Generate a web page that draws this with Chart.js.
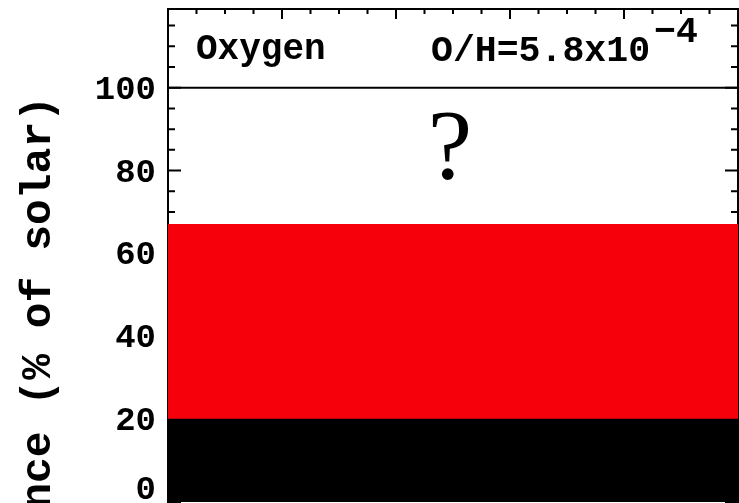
<!DOCTYPE html>
<html>
<head>
<meta charset="utf-8">
<script src="https://cdn.jsdelivr.net/npm/chart.js@4/dist/chart.umd.min.js"></script>
<style>
  html, body { margin: 0; padding: 0; background: #ffffff; overflow: hidden; }
  canvas { display: block; }
</style>
</head>
<body>
<canvas id="chart" width="739" height="503"></canvas>
<script>
// Oxygen abundance panel: measured band as percent of the solar value
const elementName = 'Oxygen';
const ratioBase = 'O/H=5.8x10';
const ratioExponent = '\u22124';
const unknownMark = '?';
const axisTitle = 'Abundance (% of solar)';

const bandNames = ['secure', 'possible'];
const bandLow = [0, 20];
const bandHigh = [20, 67];
const bandColors = ['#000000', '#f5000b'];

const solarLevel = 100;
const yRange = [0, 119];
const yTickLabels = [0, 20, 40, 60, 80, 100];
const yMinorStep = 5;
const xRange = [0, 5];
const xMinorStep = 0.25;

const MONO = "'Courier New', 'Nimbus Mono PS', FreeMono, 'Liberation Mono', monospace";

// frame with inward ticks on all four sides, drawn under the bars
const framePlugin = {
  id: 'frame',
  beforeDatasetsDraw(chart) {
    const { ctx, chartArea: a } = chart;
    const y = chart.scales.y, xl = chart.scales.xl;
    ctx.save();
    ctx.strokeStyle = '#000';
    ctx.lineWidth = 2;
    ctx.beginPath();
    ctx.moveTo(a.left, a.bottom + 2);
    ctx.lineTo(a.left, a.top);
    ctx.lineTo(a.right, a.top);
    ctx.lineTo(a.right, a.bottom + 2);
    ctx.stroke();
    ctx.beginPath();
    for (let v = yRange[0]; v <= yRange[1]; v += yMinorStep) {
      const py = y.getPixelForValue(v);
      const len = v % 20 === 0 ? 13 : 7;
      ctx.moveTo(a.left, py); ctx.lineTo(a.left + len, py);
      ctx.moveTo(a.right, py); ctx.lineTo(a.right - len, py);
    }
    for (let v = xRange[0] + xMinorStep; v < xRange[1]; v += xMinorStep) {
      const px = xl.getPixelForValue(v);
      const len = Math.abs(v - Math.round(v)) < 1e-6 ? 10 : 5;
      ctx.moveTo(px, a.top); ctx.lineTo(px, a.top + len);
    }
    ctx.stroke();
    ctx.restore();
  },
  afterDraw(chart) {
    const { ctx, chartArea: a } = chart;
    const y = chart.scales.y, xl = chart.scales.xl;
    ctx.save();
    ctx.fillStyle = '#000';
    // y tick labels, kept inside the canvas
    ctx.font = 'bold 34px ' + MONO;
    ctx.textAlign = 'right';
    ctx.textBaseline = 'middle';
    yTickLabels.forEach(v => {
      const py = Math.min(y.getPixelForValue(v) + 2.5, chart.height - 13);
      ctx.fillText(String(v), a.left - 12, py);
    });
    // axis title, rotated
    ctx.save();
    ctx.translate(39, 96);
    ctx.rotate(-Math.PI / 2);
    ctx.font = 'bold 43px ' + MONO;
    ctx.textAlign = 'right';
    ctx.textBaseline = 'middle';
    ctx.fillText(axisTitle, 0, 0);
    ctx.restore();
    // panel labels
    ctx.textAlign = 'left';
    ctx.textBaseline = 'alphabetic';
    ctx.font = 'bold 36px ' + MONO;
    ctx.fillText(elementName, 196, 59);
    ctx.font = 'bold 36.5px ' + MONO;
    ctx.fillText(ratioBase, 431, 61);
    const w = ctx.measureText(ratioBase).width;
    ctx.fillText(ratioExponent, 431 + w + 4, 42);
    // open question above the band
    ctx.font = '100px "Liberation Serif", serif';
    ctx.textAlign = 'center';
    ctx.fillText(unknownMark, xl.getPixelForValue((xRange[0] + xRange[1]) / 2) - 3, 178);
    ctx.restore();
  }
};

new Chart(document.getElementById('chart'), {
  data: {
    labels: [elementName],
    datasets: [
      ...bandNames.map((name, i) => ({
        type: 'bar',
        label: name,
        data: [[bandLow[i], bandHigh[i]]],
        backgroundColor: bandColors[i],
        borderWidth: 0,
        grouped: false,
        barPercentage: 1,
        categoryPercentage: 1,
        xAxisID: 'x',
        yAxisID: 'y'
      })),
      {
        type: 'line',
        label: 'solar',
        data: [{ x: xRange[0], y: solarLevel }, { x: xRange[1], y: solarLevel }],
        borderColor: '#000',
        borderWidth: 2,
        pointRadius: 0,
        xAxisID: 'xl',
        yAxisID: 'y'
      }
    ]
  },
  options: {
    responsive: false,
    animation: false,
    layout: { padding: { top: 9, right: 1, bottom: 1, left: 0 } },
    plugins: { legend: { display: false }, tooltip: { enabled: false } },
    scales: {
      x: { type: 'category', display: false, offset: true },
      xl: { type: 'linear', display: false, min: xRange[0], max: xRange[1] },
      y: {
        type: 'linear',
        min: yRange[0],
        max: yRange[1],
        grid: { display: false },
        border: { display: false },
        ticks: { display: false },
        afterFit(scale) { scale.width = 168; }
      }
    }
  },
  plugins: [framePlugin]
});
</script>
</body>
</html>
